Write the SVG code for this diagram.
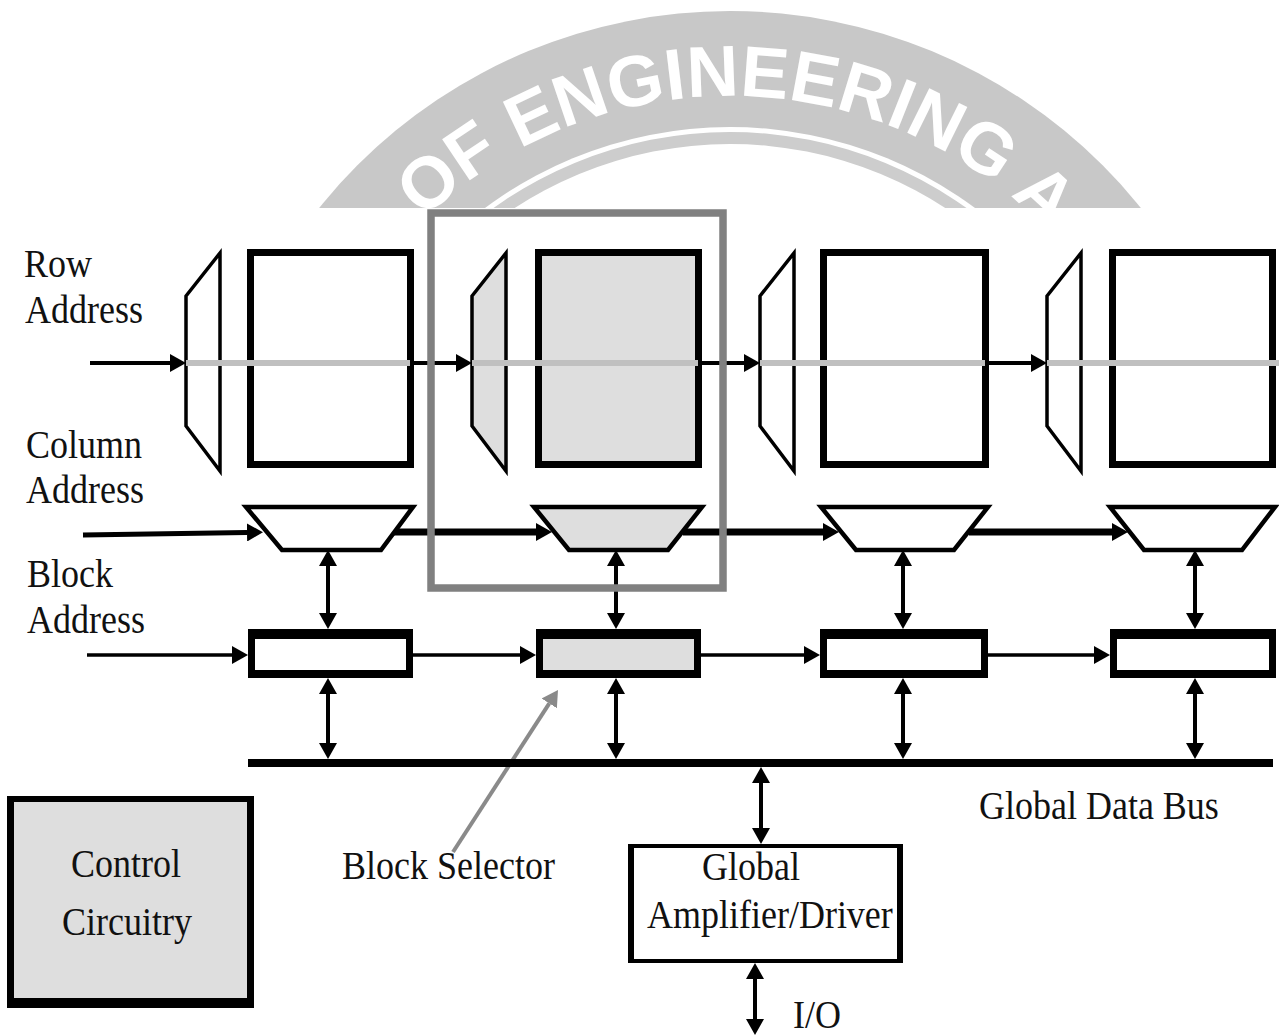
<svg xmlns="http://www.w3.org/2000/svg" width="1279" height="1036" viewBox="0 0 1279 1036">
  <style>
    .t { font-family: "Liberation Serif", "Times New Roman", serif; font-size: 36px; fill: #111; }
    .seal-text { font-family: "Liberation Sans", Arial, sans-serif; font-weight: bold; font-size: 72px; fill: #ffffff; }
    .rowdec { fill: #ffffff; stroke: #000; stroke-width: 3.5; stroke-linejoin: miter; }
    .coldec { fill: #ffffff; stroke: #000; stroke-width: 4.5; stroke-linejoin: miter; }
    .array { fill: #ffffff; stroke: #000; stroke-width: 7; }
    .sel { fill: #dedede; }
    .frame { fill: #000; }
    .wire { fill: none; stroke: #000; }
    .row { stroke-width: 4; }
    .col { stroke-width: 7; }
    .blk { stroke-width: 3.5; }
    .vert { stroke-width: 4; }
    .wordline { stroke: #c0c0c0; stroke-width: 6; }
  </style>
  <defs>
    <marker id="ah" viewBox="0 0 16 18" refX="0" refY="9" markerWidth="16" markerHeight="18" markerUnits="userSpaceOnUse" orient="auto-start-reverse">
      <path d="M0,0 L16,9 L0,18 Z" fill="#000"/>
    </marker>
    <marker id="ahg" viewBox="0 0 16 18" refX="0" refY="9" markerWidth="16" markerHeight="18" markerUnits="userSpaceOnUse" orient="auto">
      <path d="M0,0 L16,9 L0,18 Z" fill="#8a8a8a"/>
    </marker>
    <clipPath id="sealClip">
      <rect x="0" y="0" width="1279" height="208"/>
    </clipPath>
    <path id="sealArc" d="M288,538 A442,442 0 0 1 1172,538"/>
  </defs>

  <rect x="0" y="0" width="1279" height="1036" fill="#ffffff"/>

  <!-- seal in the page background, cut off above the drawing -->
  <g id="seal" clip-path="url(#sealClip)">
    <circle cx="730" cy="538" r="527" fill="#c8c8c8"/>
    <circle cx="730" cy="538" r="411" fill="#ffffff"/>
    <circle cx="730" cy="538" r="406" fill="#cdcdcd"/>
    <circle cx="730" cy="538" r="394" fill="#ffffff"/>
    <text class="seal-text"><textPath href="#sealArc" startOffset="702" text-anchor="middle">OF ENGINEERING A</textPath></text>
  </g>

  <!-- signal connectors -->
  <g id="connectors">
    <!-- row address chain -->
    <line class="wire row" x1="90" y1="363" x2="170" y2="363" marker-end="url(#ah)"/>
    <line class="wire row" x1="414" y1="363" x2="456" y2="363" marker-end="url(#ah)"/>
    <line class="wire row" x1="702" y1="363" x2="744" y2="363" marker-end="url(#ah)"/>
    <line class="wire row" x1="989" y1="363" x2="1031" y2="363" marker-end="url(#ah)"/>
    <!-- column address chain -->
    <line class="wire" stroke-width="5" x1="83" y1="535" x2="247" y2="532.5" marker-end="url(#ah)"/>
    <line class="wire col" x1="394" y1="532" x2="536" y2="532" marker-end="url(#ah)"/>
    <line class="wire col" x1="683" y1="532" x2="823" y2="532" marker-end="url(#ah)"/>
    <line class="wire col" x1="969" y1="532" x2="1112" y2="532" marker-end="url(#ah)"/>
    <!-- block address chain -->
    <line class="wire blk" x1="87" y1="655" x2="232" y2="655" marker-end="url(#ah)"/>
    <line class="wire blk" x1="413" y1="655" x2="520" y2="655" marker-end="url(#ah)"/>
    <line class="wire blk" x1="701" y1="655" x2="804" y2="655" marker-end="url(#ah)"/>
    <line class="wire blk" x1="988" y1="655" x2="1094" y2="655" marker-end="url(#ah)"/>
    <!-- column decoder <-> block selector -->
    <line class="wire vert" x1="328" y1="566" x2="328" y2="613" marker-start="url(#ah)" marker-end="url(#ah)"/>
    <line class="wire vert" x1="616" y1="566" x2="616" y2="613" marker-start="url(#ah)" marker-end="url(#ah)"/>
    <line class="wire vert" x1="903" y1="566" x2="903" y2="613" marker-start="url(#ah)" marker-end="url(#ah)"/>
    <line class="wire vert" x1="1195" y1="566" x2="1195" y2="613" marker-start="url(#ah)" marker-end="url(#ah)"/>
    <!-- block selector <-> global data bus -->
    <line class="wire vert" x1="328" y1="694" x2="328" y2="743" marker-start="url(#ah)" marker-end="url(#ah)"/>
    <line class="wire vert" x1="616" y1="694" x2="616" y2="743" marker-start="url(#ah)" marker-end="url(#ah)"/>
    <line class="wire vert" x1="903" y1="694" x2="903" y2="743" marker-start="url(#ah)" marker-end="url(#ah)"/>
    <line class="wire vert" x1="1195" y1="694" x2="1195" y2="743" marker-start="url(#ah)" marker-end="url(#ah)"/>
    <!-- bus <-> global amplifier, amplifier <-> I/O -->
    <line class="wire vert" x1="761" y1="783" x2="761" y2="828" marker-start="url(#ah)" marker-end="url(#ah)"/>
    <line class="wire vert" x1="755" y1="979" x2="755" y2="1019" marker-start="url(#ah)" marker-end="url(#ah)"/>
    <!-- pointer to the highlighted block selector -->
    <line x1="453" y1="852" x2="549.3" y2="703.4" stroke="#8a8a8a" stroke-width="4" marker-end="url(#ahg)"/>
  </g>

  <!-- labels -->
  <g id="labels">
    <text class="t" transform="translate(24 277) scale(1 1.1)">Row</text>
    <text class="t" transform="translate(25 323) scale(1 1.1)">Address</text>
    <text class="t" transform="translate(26 458) scale(1 1.1)">Column</text>
    <text class="t" transform="translate(26 503) scale(1 1.1)">Address</text>
    <text class="t" transform="translate(27 587) scale(1 1.1)">Block</text>
    <text class="t" transform="translate(27 633) scale(1 1.1)">Address</text>
    <text class="t" transform="translate(342 879) scale(1 1.1)">Block Selector</text>
    <text class="t" transform="translate(979 819) scale(1 1.1)">Global Data Bus</text>
    <text class="t" transform="translate(793 1028) scale(1 1.1)">I/O</text>
  </g>

  <!-- row decoders -->
  <g id="row-decoder-1"><polygon class="rowdec" points="186,296 220,253 220,471 186,426"/></g>
  <g id="row-decoder-2"><polygon class="rowdec sel" points="472,296 506,253 506,471 472,426"/></g>
  <g id="row-decoder-3"><polygon class="rowdec" points="760,296 794,253 794,471 760,426"/></g>
  <g id="row-decoder-4"><polygon class="rowdec" points="1047,296 1081,253 1081,471 1047,426"/></g>

  <!-- memory arrays -->
  <g id="array-1"><rect class="array" x="250.5" y="252.5" width="160" height="212"/></g>
  <g id="array-2"><rect class="array sel" x="538.5" y="252.5" width="160" height="212"/></g>
  <g id="array-3"><rect class="array" x="823.5" y="252.5" width="162" height="212"/></g>
  <g id="array-4"><rect class="array" x="1112.5" y="252.5" width="160" height="212"/></g>

  <!-- word lines running through decoders and arrays -->
  <g id="wordlines">
    <line class="wordline" x1="186" y1="363" x2="410" y2="363"/>
    <line class="wordline" x1="472" y1="363" x2="698" y2="363"/>
    <line class="wordline" x1="760" y1="363" x2="985" y2="363"/>
    <line class="wordline" x1="1047" y1="363" x2="1279" y2="363"/>
  </g>

  <!-- column decoders -->
  <g id="col-decoder-1"><polygon class="coldec" points="246,507 413,507 381,550 282,550"/></g>
  <g id="col-decoder-2"><polygon class="coldec sel" points="534,507 702,507 668,550 569,550"/></g>
  <g id="col-decoder-3"><polygon class="coldec" points="821,507 988,507 954,550 856,550"/></g>
  <g id="col-decoder-4"><polygon class="coldec" points="1110,507 1275,507 1242,550 1144,550"/></g>

  <!-- block selectors -->
  <g id="block-selector-1">
    <rect class="frame" x="248" y="629" width="165" height="49"/>
    <rect x="255" y="639" width="151" height="31" fill="#ffffff"/>
  </g>
  <g id="block-selector-2">
    <rect class="frame" x="536" y="629" width="165" height="49"/>
    <rect class="sel" x="543" y="639" width="151" height="31"/>
  </g>
  <g id="block-selector-3">
    <rect class="frame" x="820" y="629" width="168" height="49"/>
    <rect x="827" y="639" width="154" height="31" fill="#ffffff"/>
  </g>
  <g id="block-selector-4">
    <rect class="frame" x="1110" y="629" width="166" height="49"/>
    <rect x="1117" y="639" width="152" height="31" fill="#ffffff"/>
  </g>

  <!-- global data bus -->
  <g id="global-data-bus">
    <line x1="248" y1="763" x2="1273" y2="763" stroke="#000" stroke-width="8"/>
  </g>

  <!-- global amplifier / driver -->
  <g id="global-amplifier">
    <rect x="634" y="848" width="263" height="111" fill="#ffffff"/>
    <text class="t" transform="translate(702 880) scale(1 1.1)">Global</text>
    <text class="t" transform="translate(647 928) scale(1 1.1)">Amplifier/Driver</text>
    <path class="frame" fill-rule="evenodd" d="M628,844 H903 V963 H628 Z M634,848 V959 H897 V848 Z"/>
  </g>

  <!-- control circuitry -->
  <g id="control-circuitry">
    <rect class="frame" x="7" y="796" width="247" height="212"/>
    <rect class="sel" x="14" y="802" width="233" height="196"/>
    <text class="t" transform="translate(71 877) scale(1 1.1)">Control</text>
    <text class="t" transform="translate(62 935) scale(1 1.1)">Circuitry</text>
  </g>

  <!-- outline around the selected block -->
  <g id="selected-block">
    <rect x="431" y="213" width="292" height="375" fill="none" stroke="#808080" stroke-width="7.5"/>
  </g>
</svg>
